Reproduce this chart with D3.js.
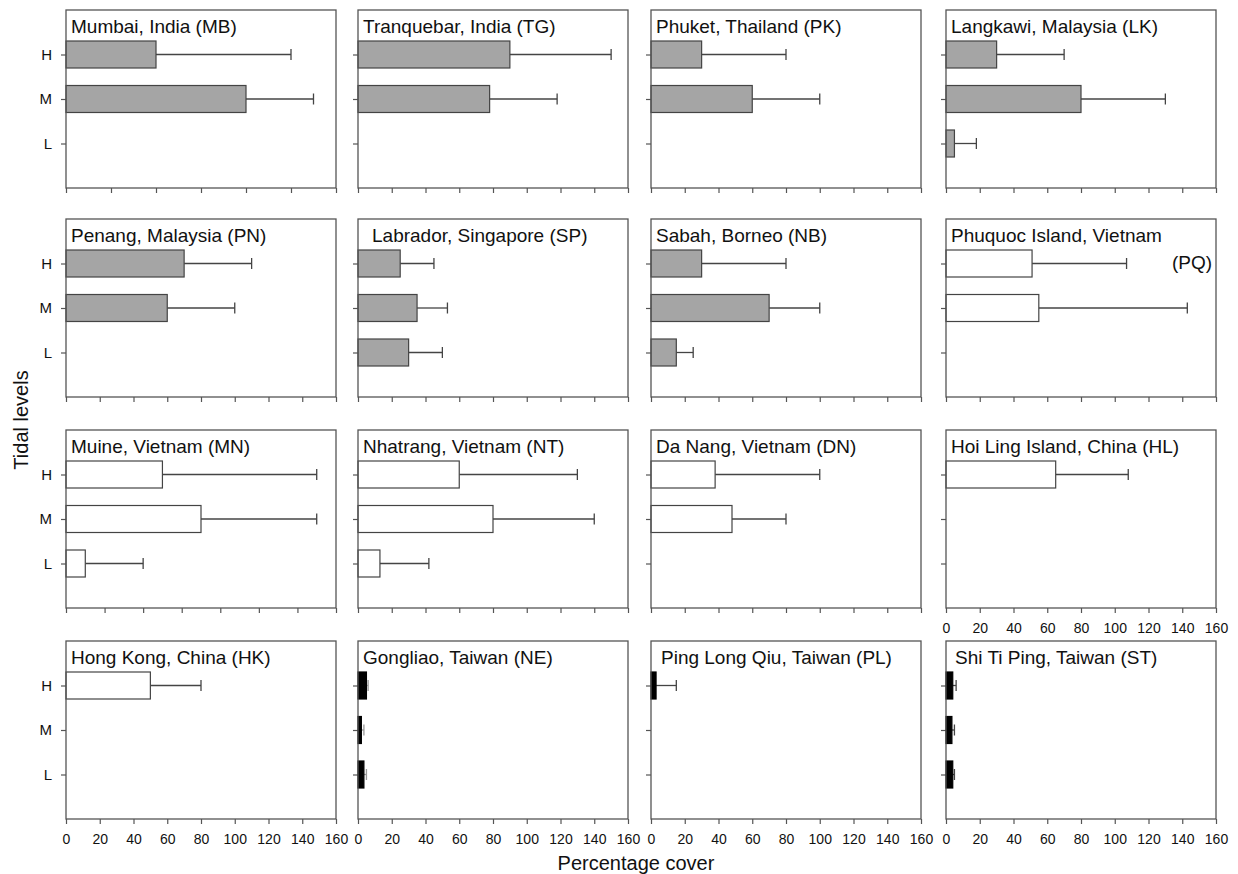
<!DOCTYPE html>
<meta charset="utf-8">
<title>Tidal levels - percentage cover</title>
<script src="https://cdn.jsdelivr.net/npm/d3@7"></script>
<style>
  body { margin: 0; background: #fff; }
  svg text { font-family: Arial, "Liberation Sans", sans-serif; fill: #111; }
  .frame { fill: none; stroke: #555; stroke-width: 1.3; }
  .axis { color: #111; }
  .axis path { display: none; }
  .axis line { stroke: #555; stroke-width: 1.2; }
  .axis text { font-size: 14px; fill: #111; }
  .yaxis text { font-size: 15px; }
  .err { stroke: #444; stroke-width: 1.3; }
  .err.light { stroke: #999; }
</style>
<body>
<div id="chart"></div>
<script>
  // data (bar = mean, errEnd = mean + sd)
  var sites = ["Mumbai, India (MB)", "Tranquebar, India (TG)", "Phuket, Thailand (PK)", "Langkawi, Malaysia (LK)",
    "Penang, Malaysia (PN)", "Labrador, Singapore (SP)", "Sabah, Borneo (NB)", "Phuquoc Island, Vietnam (PQ)",
    "Muine, Vietnam (MN)", "Nhatrang, Vietnam (NT)", "Da Nang, Vietnam (DN)", "Hoi Ling Island, China (HL)",
    "Hong Kong, China (HK)", "Gongliao, Taiwan (NE)", "Ping Long Qiu, Taiwan (PL)", "Shi Ti Ping, Taiwan (ST)"];
  var levels = ["H", "M", "L"];
  var meanCover = [
    [40, 80, null], [90, 78, null], [30, 60, null], [30, 80, 5],
    [70, 60, null], [25, 35, 30], [30, 70, 15], [51, 55, null],
    [50, 70, 10], [60, 80, 13], [38, 48, null], [65, null, null],
    [50, null, null], [5, 2, 3.5], [3, null, null], [4, 3.5, 4]
  ];
  var errEnd = [
    [100, 110, null], [150, 118, null], [80, 100, null], [70, 130, 18],
    [110, 100, null], [45, 53, 50], [80, 100, 25], [107, 143, null],
    [130, 130, 40], [130, 140, 42], [100, 80, null], [108, null, null],
    [80, null, null], [6, 3.5, 5], [15, null, null], [6, 5, 5]
  ];
  var group = ["grey", "grey", "grey", "grey", "grey", "grey", "grey", "open",
    "open", "open", "open", "open", "open", "solid", "solid", "solid"];
  var xMax = [120, 160, 160, 160, 160, 160, 160, 160, 140, 160, 160, 160, 160, 160, 160, 160];
  var tickStep = 20;

  var colLeft = [66, 358, 651, 946], rowTop = [10, 219, 430, 641];
  var w = 270, h = 178;
  var titleDx = { 5: 14, 14: 10, 15: 9 };
  var fills = { grey: "#a5a5a5", open: "#ffffff", solid: "#000000" };

  var svg = d3.select("#chart").append("svg")
    .attr("width", 1238).attr("height", 874);

  sites.forEach(function (site, i) {
    var col = i % 4, row = Math.floor(i / 4);
    var g = svg.append("g")
      .attr("transform", "translate(" + colLeft[col] + "," + rowTop[row] + ")");

    var x = d3.scaleLinear().domain([0, xMax[i]]).range([0, w]);
    var y = d3.scalePoint().domain(["top", "H", "M", "L", "bottom"]).range([0, h]);
    var barH = 27;

    // x axis: labels only where nothing sits underneath
    var showX = row === 3 || i === 11;
    g.append("g").attr("class", "axis")
      .attr("transform", "translate(0," + h + ")")
      .call(d3.axisBottom(x).tickValues(d3.range(0, xMax[i] + 1, tickStep))
        .tickSize(5).tickPadding(10)
        .tickFormat(showX ? d3.format("d") : function () { return ""; }));

    g.append("g").attr("class", "axis yaxis")
      .call(d3.axisLeft(y).tickValues(levels).tickSize(5).tickPadding(9)
        .tickFormat(col === 0 ? null : function () { return ""; }));

    var rows = levels.map(function (lv, k) {
      return { level: lv, mean: meanCover[i][k], end: errEnd[i][k] };
    }).filter(function (d) { return d.mean != null; });

    // error bars (one-sided)
    var errCls = i === 13 ? "err light" : "err";
    var eb = g.selectAll(".eb").data(rows).enter().append("g");
    eb.append("line").attr("class", errCls)
      .attr("x1", function (d) { return x(d.mean); })
      .attr("x2", function (d) { return x(d.end); })
      .attr("y1", function (d) { return y(d.level); })
      .attr("y2", function (d) { return y(d.level); });
    eb.append("line").attr("class", errCls)
      .attr("x1", function (d) { return x(d.end); })
      .attr("x2", function (d) { return x(d.end); })
      .attr("y1", function (d) { return y(d.level) - 5.5; })
      .attr("y2", function (d) { return y(d.level) + 5.5; });

    g.selectAll(".bar").data(rows).enter().append("rect")
      .attr("x", x(0))
      .attr("y", function (d) { return y(d.level) - barH / 2; })
      .attr("width", function (d) { return x(d.mean) - x(0); })
      .attr("height", barH)
      .attr("fill", fills[group[i]])
      .attr("stroke", group[i] === "solid" ? "#000" : "#444")
      .attr("stroke-width", 1.2);

    g.append("rect").attr("class", "frame").attr("width", w).attr("height", h);

    // panel title (PQ wraps onto two lines)
    var tx = titleDx[i] || 5;
    if (i === 7) {
      g.append("text").attr("x", tx).attr("y", 23).attr("font-size", 19)
        .text(site.replace(" (PQ)", ""));
      g.append("text").attr("x", w - 4).attr("y", 50).attr("font-size", 19)
        .attr("text-anchor", "end").text("(PQ)");
    } else {
      g.append("text").attr("x", tx).attr("y", 23).attr("font-size", 19).text(site);
    }
  });

  svg.append("text")
    .attr("transform", "translate(28,420) rotate(-90)")
    .attr("text-anchor", "middle").attr("font-size", 20)
    .text("Tidal levels");

  svg.append("text")
    .attr("x", 636).attr("y", 870)
    .attr("text-anchor", "middle").attr("font-size", 20)
    .text("Percentage cover");
</script>
</body>
